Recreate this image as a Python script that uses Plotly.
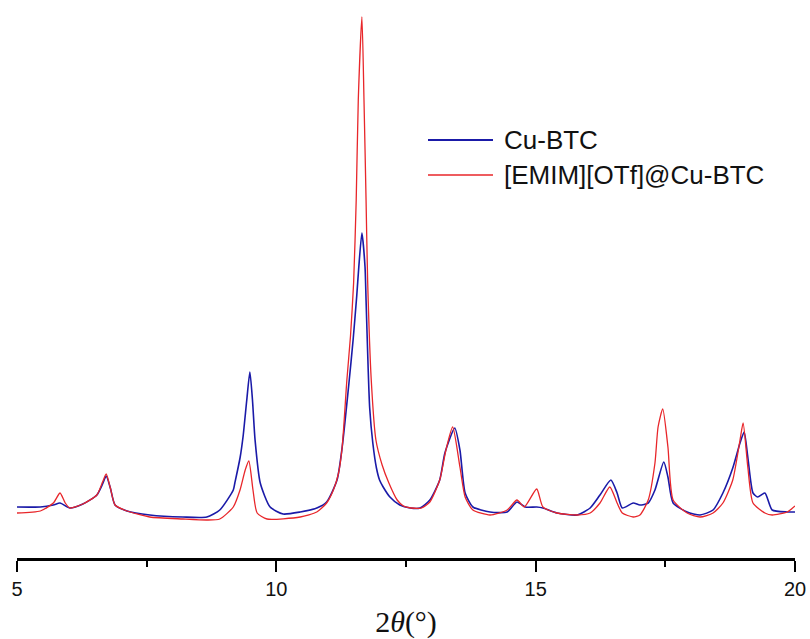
import plotly.graph_objects as go

# 2-theta positions (degrees) and intensities (arb. units)
two_theta_cu = [5.00, 5.45, 5.70, 5.83, 6.02, 6.27, 6.54, 6.65, 6.72, 6.80, 6.89, 7.12, 7.56,
                8.20, 8.66, 8.91, 9.17, 9.20, 9.30, 9.36, 9.43, 9.49, 9.54, 9.59, 9.69, 9.88,
                10.13, 10.46, 10.78, 10.97, 11.17, 11.27, 11.40, 11.48, 11.55, 11.59, 11.65, 11.71,
                11.73, 11.77, 11.80, 11.86, 11.93, 11.99, 12.06, 12.19, 12.38, 12.58, 12.77,
                12.96, 13.15, 13.25, 13.44, 13.54, 13.64, 13.79, 14.12, 14.45, 14.64, 14.80,
                15.02, 15.14, 15.41, 15.80, 16.05, 16.24, 16.45, 16.57, 16.67, 16.88, 17.01,
                17.17, 17.30, 17.47, 17.55, 17.65, 17.92, 18.17, 18.42, 18.61, 18.80, 18.94,
                19.02, 19.09, 19.19, 19.28, 19.42, 19.56, 19.85, 20.00]
intensity_cu = [51, 51, 53, 55, 50, 54, 63, 74, 82, 70, 53, 47, 43,
                41, 41, 48, 68, 75, 100, 122, 158, 186, 158, 118, 75, 51,
                44, 46, 50, 56, 78, 111, 175, 218, 262, 291, 325, 291,
                258, 190, 150, 115, 90, 78, 71, 61, 53, 50, 50,
                58, 78, 105, 130, 108, 65, 51, 46, 46, 56, 51,
                51, 50, 45, 43, 50, 63, 78, 65, 50, 55, 53,
                55, 68, 96, 81, 55, 46, 43, 48, 65, 90, 115,
                126, 101, 65, 61, 65, 48, 46, 46]

two_theta_il = [5.00, 5.45, 5.70, 5.83, 5.93, 6.02, 6.27, 6.54, 6.65, 6.72, 6.80, 6.89, 7.12,
                7.56, 8.20, 8.66, 8.91, 9.17, 9.30, 9.40, 9.47, 9.55, 9.63, 9.82, 10.46, 10.78,
                10.97, 11.10, 11.20, 11.27, 11.36, 11.43, 11.49, 11.54, 11.58, 11.65, 11.69,
                11.73, 11.76, 11.83, 11.92, 12.04, 12.17, 12.33, 12.45, 12.60, 12.80, 12.96,
                13.15, 13.27, 13.40, 13.54, 13.64, 13.79, 14.12, 14.45, 14.64, 14.78, 15.02,
                15.14, 15.41, 15.80, 16.05, 16.24, 16.43, 16.57, 16.67, 16.88, 17.01, 17.17,
                17.30, 17.36, 17.45, 17.55, 17.65, 17.92, 18.17, 18.42, 18.61, 18.80, 18.94,
                19.00, 19.09, 19.19, 19.42, 19.56, 19.85, 20.00]
intensity_il = [45, 47, 55, 65, 55, 50, 54, 63, 76, 84, 70, 53, 47,
                41, 39, 38, 39, 51, 68, 88, 97, 68, 45, 39, 41, 46,
                55, 68, 85, 111, 178, 222, 275, 358, 458, 541, 458,
                358, 278, 178, 118, 93, 75, 58, 52, 50, 50, 56,
                78, 108, 131, 91, 61, 48, 43, 48, 58, 51, 69,
                51, 45, 43, 45, 55, 71, 55, 45, 41, 43, 58,
                95, 131, 149, 111, 58, 45, 41, 45, 55, 78, 118,
                135, 91, 55, 45, 43, 46, 52]

series_names = ["Cu-BTC", "[EMIM][OTf]@Cu-BTC"]
series_colors = ["#1a1aa8", "#e8262a"]
x_ticks = [5, 10, 15, 20]

fig = go.Figure()
fig.add_trace(go.Scatter(x=two_theta_cu, y=intensity_cu, mode="lines", name=series_names[0],
                         line=dict(color=series_colors[0], width=1.6, shape="spline", smoothing=0.6),
                         showlegend=False))
fig.add_trace(go.Scatter(x=two_theta_il, y=intensity_il, mode="lines", name=series_names[1],
                         line=dict(color=series_colors[1], width=1.3, shape="spline", smoothing=0.6),
                         showlegend=False))

# custom legend (long line samples as in the reference)
legend_rows = [(140, series_colors[0], series_names[0], 2.0), (175, series_colors[1], series_names[1], 1.3)]
W, H = 810, 639
for py, col, name, lw in legend_rows:
    fig.add_shape(type="line", xref="paper", yref="paper",
                  x0=(428 - 17) / 778, x1=(493 - 17) / 778,
                  y0=(558 - py) / 548, y1=(558 - py) / 548,
                  line=dict(color=col, width=lw))
    fig.add_annotation(xref="paper", yref="paper", x=(502 - 17) / 778, y=(558 - py) / 548,
                       xanchor="left", yanchor="middle", text=name, showarrow=False,
                       font=dict(family="Liberation Sans, Arial", size=26, color="#111111"))

fig.update_layout(
    width=W, height=H,
    margin=dict(l=17, r=15, t=10, b=81),
    paper_bgcolor="white", plot_bgcolor="white",
    xaxis=dict(range=[5, 20], tickvals=x_ticks, ticktext=[str(t) for t in x_ticks],
               automargin=False,
               showgrid=False, zeroline=False, showline=True, linecolor="black", linewidth=2.5,
               ticks="outside", ticklen=11, tickwidth=2, tickcolor="black",
               minor=dict(tickvals=[7.5, 12.5, 17.5], ticks="outside", ticklen=6, tickwidth=2,
                          tickcolor="black", showgrid=False),
               tickfont=dict(family="Liberation Sans, Arial", size=20, color="#111111"),
               title=dict(text="2<i>θ</i>(°)", standoff=14,
                          font=dict(family="Liberation Serif, Times New Roman", size=30, color="#111111"))),
    yaxis=dict(range=[0, 548], visible=False),
)

fig.write_html("out.html")
